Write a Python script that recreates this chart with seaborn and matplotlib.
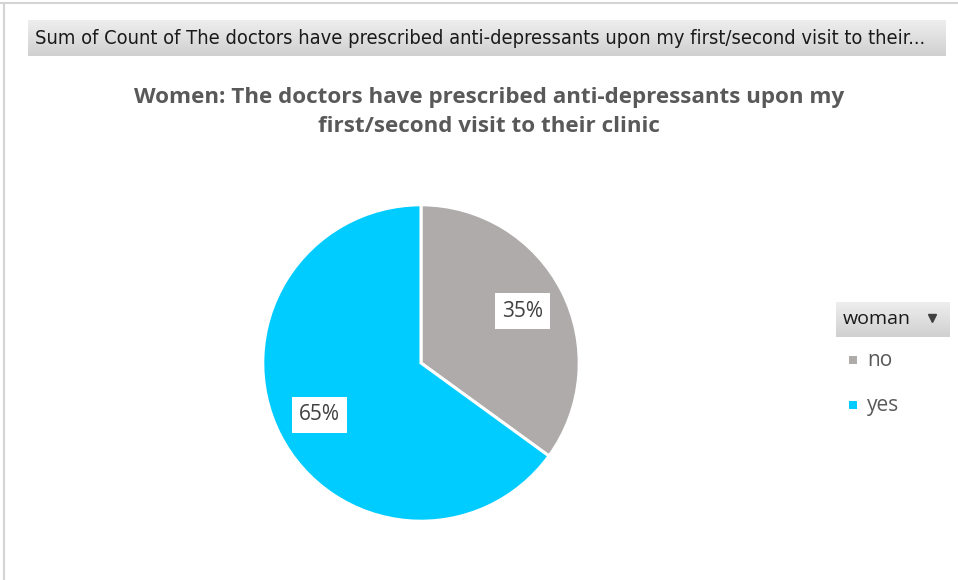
import matplotlib
matplotlib.use("Agg")
import matplotlib.pyplot as plt
from matplotlib.patches import Rectangle
from matplotlib.lines import Line2D
import numpy as np
import pandas as pd
import seaborn as sns

# Pivot data
categories = ["no", "yes"]
percent = [35, 65]
colors = ["#AEABAA", "#00CCFF"]
legend_title = "woman"
chart_title = ("Women: The doctors have prescribed anti-depressants upon my\n"
               "first/second visit to their clinic")
field_button = ("Sum of Count of The doctors have prescribed anti-depressants "
                "upon my first/second visit to their...")

df = pd.DataFrame({"woman": categories, "share": percent})

sns.set_theme(style="white")
plt.rcParams["font.family"] = ["Open Sans", "DejaVu Sans"]

W, H = 958, 580
fig = plt.figure(figsize=(W / 100, H / 100), dpi=100)
fig.patch.set_facecolor("white")

def fx(px):
    return px / W

def fy(py):
    return 1 - py / H

# outer frame lines
fig.add_artist(Line2D([fx(0), fx(958)], [fy(3), fy(3)], color="#D4D4D4", lw=1.5))
fig.add_artist(Line2D([fx(4), fx(4)], [fy(3), fy(580)], color="#D4D4D4", lw=1.5))

btn_cmap = matplotlib.colors.LinearSegmentedColormap.from_list("btn", ["#EEEEEE", "#D0D0D0"])
grad = np.linspace(0, 1, 64).reshape(-1, 1)

# field button with gradient
bax = fig.add_axes([fx(28), fy(56), fx(946) - fx(28), fy(20) - fy(56)])
bax.imshow(grad, aspect="auto", cmap=btn_cmap, extent=[0, 1, 0, 1], origin="upper")
bax.set_xlim(0, 1)
bax.set_ylim(0, 1)
bax.axis("off")
bax.text(0.008, 0.5, field_button, ha="left", va="center", fontsize=14.4,
         color="#1A1A1A", family="DejaVu Sans", fontstretch="condensed")

# chart title
fig.text(fx(489), fy(112), chart_title, ha="center", va="center", fontsize=16.1,
         fontweight="bold", color="#595959", linespacing=1.5)

# pie
ax = fig.add_axes([fx(262), fy(522), fx(580) - fx(262), fy(204) - fy(522)])
wedges, texts, autotexts = ax.pie(
    df["share"], colors=colors, startangle=90, counterclock=False,
    autopct=lambda p: f"{p:.0f}%", pctdistance=0.72,
    wedgeprops=dict(edgecolor="white", linewidth=2.2),
    textprops=dict(fontsize=15, color="#404040"))
for t in autotexts:
    t.set_bbox(dict(facecolor="white", edgecolor="none", boxstyle="square,pad=0.35"))
ax.set_xlim(-1.005, 1.005)
ax.set_ylim(-1.005, 1.005)
ax.set_aspect("equal")
ax.axis("off")

# legend header button
lax = fig.add_axes([fx(836), fy(337), fx(950) - fx(836), fy(302) - fy(337)])
lax.imshow(grad, aspect="auto", cmap=btn_cmap, extent=[0, 1, 0, 1], origin="upper")
lax.set_xlim(0, 1)
lax.set_ylim(0, 1)
lax.axis("off")
lax.text(0.06, 0.5, legend_title, ha="left", va="center", fontsize=14, color="#1A1A1A")
lax.plot([0.845], [0.53], marker="v", markersize=6, color="#404040")

# legend entries
for i, (cat, col) in enumerate(zip(categories, colors)):
    y = 360 + i * 45
    fig.add_artist(Rectangle((fx(849), fy(y + 4)), fx(8), fy(y - 4) - fy(y + 4),
                             facecolor=col, edgecolor="none"))
    fig.text(fx(867), fy(y), cat, ha="left", va="center", fontsize=15, color="#595959")

fig.savefig("out.png", dpi=100, facecolor="white")
